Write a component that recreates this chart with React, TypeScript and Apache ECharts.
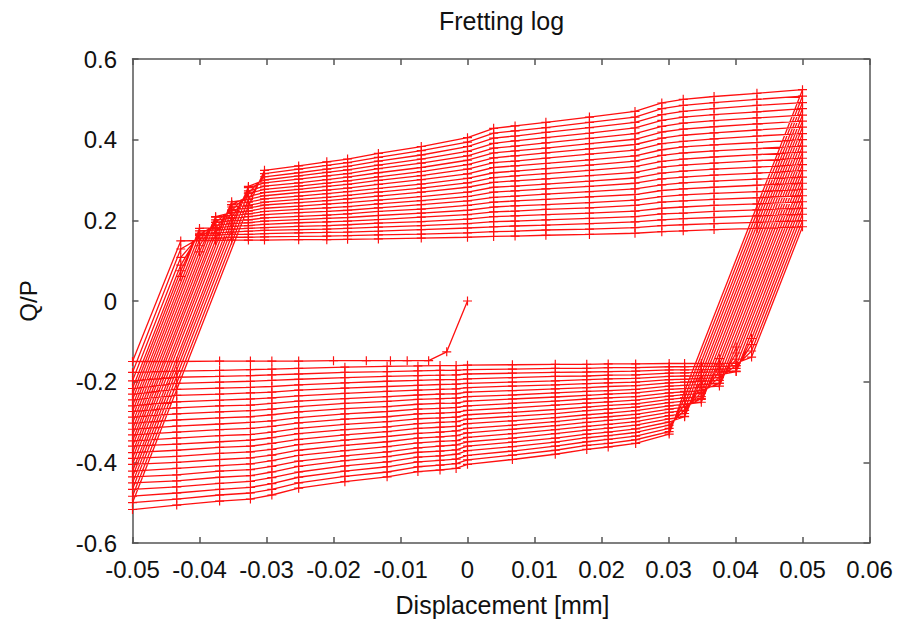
import React, { useEffect, useRef } from "react";
import * as echarts from "echarts";

const n = null;
const FONT = "'Liberation Sans', Arial, sans-serif";

const TITLE = "Fretting log";
const X_NAME = "Displacement [mm]";
const Y_NAME = "Q/P";

const X_TICKS = [-0.05, -0.04, -0.03, -0.02, -0.01, 0, 0.01, 0.02, 0.03, 0.04, 0.05, 0.06];
const Y_TICKS = [-0.6, -0.4, -0.2, 0, 0.2, 0.4, 0.6];

// initial loading path (displacement, Q/P)
const X_START = [0, -0.0031, -0.0058, -0.009, -0.0115, -0.0151, -0.02, -0.0252, -0.0292, -0.0324, -0.037, -0.0434, -0.05];
const Q_START = [0, -0.126, -0.148, -0.148, -0.148, -0.148, -0.148, -0.149, -0.149, -0.149, -0.149, -0.15, -0.15];

// forward stroke: sample displacements, and Q/P of cycles 1..23 at each of them
const X_TOP = [-0.0428, -0.04, -0.0376, -0.0352, -0.0327, -0.0303, -0.0252, -0.021, -0.0179, -0.0133, -0.0069, 0, 0.0039, 0.0071, 0.0117, 0.0182, 0.025, 0.029, 0.0322, 0.0368, 0.0432, 0.05];
const TOP_Q: (number | null)[][] = [
  [0.149, 0.129, 0.108, 0.089, 0.075, 0.061, n, n, n, n, n, n, n, n, n, n, n, n, n, n, n, n, n],
  [0.15, 0.156, 0.162, 0.168, 0.174, 0.18, 0.165, 0.151, 0.137, 0.122, n, n, n, n, n, n, n, n, n, n, n, n, n],
  [0.15, 0.156, 0.163, 0.169, 0.176, 0.182, 0.188, 0.195, 0.201, 0.208, 0.209, 0.195, 0.18, 0.167, 0.151, n, n, n, n, n, n, n, n],
  [0.151, 0.158, 0.165, 0.171, 0.178, 0.185, 0.192, 0.199, 0.205, 0.212, 0.219, 0.226, 0.233, 0.239, 0.246, 0.239, 0.224, 0.207, 0.193, n, n, n, n],
  [0.151, 0.158, 0.165, 0.173, 0.18, 0.187, 0.194, 0.201, 0.209, 0.216, 0.223, 0.23, 0.237, 0.245, 0.252, 0.259, 0.266, 0.273, 0.281, 0.284, 0.268, 0.251, 0.235],
  [0.151, 0.159, 0.167, 0.175, 0.182, 0.19, 0.198, 0.206, 0.214, 0.222, 0.23, 0.238, 0.245, 0.253, 0.261, 0.269, 0.277, 0.285, 0.293, 0.3, 0.308, 0.316, 0.324],
  [0.152, 0.16, 0.169, 0.177, 0.185, 0.194, 0.202, 0.21, 0.219, 0.227, 0.235, 0.244, 0.252, 0.26, 0.269, 0.277, 0.285, 0.293, 0.302, 0.31, 0.318, 0.327, 0.335],
  [0.152, 0.161, 0.17, 0.178, 0.187, 0.196, 0.205, 0.213, 0.222, 0.231, 0.24, 0.249, 0.257, 0.266, 0.275, 0.284, 0.292, 0.301, 0.31, 0.319, 0.327, 0.336, 0.345],
  [0.153, 0.162, 0.171, 0.18, 0.189, 0.198, 0.207, 0.216, 0.225, 0.234, 0.244, 0.253, 0.262, 0.271, 0.28, 0.289, 0.298, 0.307, 0.316, 0.325, 0.334, 0.343, 0.352],
  [0.154, 0.164, 0.173, 0.183, 0.193, 0.202, 0.212, 0.222, 0.231, 0.241, 0.25, 0.26, 0.27, 0.279, 0.289, 0.299, 0.308, 0.318, 0.328, 0.337, 0.347, 0.356, 0.366],
  [0.156, 0.166, 0.177, 0.187, 0.197, 0.208, 0.218, 0.228, 0.239, 0.249, 0.259, 0.27, 0.28, 0.29, 0.301, 0.311, 0.321, 0.331, 0.342, 0.352, 0.362, 0.373, 0.383],
  [0.158, 0.169, 0.181, 0.192, 0.203, 0.214, 0.225, 0.237, 0.248, 0.259, 0.27, 0.282, 0.293, 0.304, 0.315, 0.327, 0.338, 0.349, 0.36, 0.371, 0.383, 0.394, 0.405],
  [0.16, 0.172, 0.184, 0.197, 0.209, 0.221, 0.233, 0.245, 0.257, 0.27, 0.282, 0.294, 0.306, 0.318, 0.331, 0.343, 0.355, 0.367, 0.379, 0.391, 0.404, 0.416, 0.428],
  [0.161, 0.173, 0.186, 0.198, 0.211, 0.223, 0.236, 0.248, 0.26, 0.273, 0.285, 0.298, 0.31, 0.322, 0.335, 0.347, 0.36, 0.372, 0.384, 0.397, 0.409, 0.422, 0.434],
  [0.163, 0.176, 0.188, 0.201, 0.214, 0.227, 0.239, 0.252, 0.265, 0.278, 0.29, 0.303, 0.316, 0.328, 0.341, 0.354, 0.367, 0.379, 0.392, 0.405, 0.418, 0.43, 0.443],
  [0.165, 0.178, 0.192, 0.205, 0.218, 0.231, 0.244, 0.258, 0.271, 0.284, 0.297, 0.311, 0.324, 0.337, 0.35, 0.364, 0.377, 0.39, 0.403, 0.416, 0.43, 0.443, 0.456],
  [0.168, 0.182, 0.196, 0.209, 0.223, 0.237, 0.25, 0.264, 0.278, 0.292, 0.305, 0.319, 0.333, 0.347, 0.36, 0.374, 0.388, 0.401, 0.415, 0.429, 0.443, 0.456, 0.47],
  [0.172, 0.187, 0.201, 0.216, 0.23, 0.245, 0.259, 0.274, 0.288, 0.303, 0.317, 0.332, 0.346, 0.361, 0.375, 0.39, 0.404, 0.419, 0.433, 0.448, 0.462, 0.477, 0.491],
  [0.174, 0.189, 0.204, 0.218, 0.233, 0.248, 0.263, 0.278, 0.293, 0.307, 0.322, 0.337, 0.352, 0.367, 0.382, 0.396, 0.411, 0.426, 0.441, 0.456, 0.47, 0.485, 0.5],
  [0.177, 0.192, 0.207, 0.222, 0.237, 0.252, 0.267, 0.282, 0.297, 0.312, 0.327, 0.342, 0.357, 0.372, 0.387, 0.402, 0.417, 0.432, 0.447, 0.462, 0.477, 0.492, 0.507],
  [0.18, 0.195, 0.211, 0.226, 0.241, 0.256, 0.271, 0.287, 0.302, 0.317, 0.332, 0.348, 0.363, 0.378, 0.393, 0.409, 0.424, 0.439, 0.454, 0.469, 0.485, 0.5, 0.515],
  [0.184, 0.199, 0.215, 0.23, 0.246, 0.261, 0.277, 0.292, 0.307, 0.323, 0.338, 0.354, 0.369, 0.384, 0.4, 0.415, 0.431, 0.446, 0.461, 0.477, 0.492, 0.508, 0.524],
];

// return stroke: sample displacements, and Q/P of cycles 1..23 at each of them
const X_BOTTOM = [0.0424, 0.0401, 0.0376, 0.0349, 0.0324, 0.0301, 0.0251, 0.021, 0.0178, 0.0131, 0.0067, 0, -0.0017, -0.0041, -0.0074, -0.012, -0.0183, -0.0252, -0.0292, -0.0324, -0.037, -0.0434, -0.05];
const BOTTOM_Q: (number | null)[][] = [
  [-0.139, -0.124, -0.108, -0.093, n, n, n, n, n, n, n, n, n, n, n, n, n, n, n, n, n, n, n],
  [-0.154, -0.161, -0.167, -0.174, -0.175, -0.16, -0.144, -0.129, -0.114, n, n, n, n, n, n, n, n, n, n, n, n, n, n],
  [-0.155, -0.162, -0.169, -0.176, -0.183, -0.19, -0.197, -0.204, -0.211, -0.204, -0.189, -0.173, -0.158, -0.143, n, n, n, n, n, n, n, n, n],
  [-0.155, -0.162, -0.17, -0.177, -0.185, -0.192, -0.199, -0.207, -0.214, -0.222, -0.229, -0.237, -0.244, -0.251, -0.242, -0.227, -0.211, -0.196, n, n, n, n, n],
  [-0.155, -0.163, -0.171, -0.178, -0.186, -0.194, -0.201, -0.209, -0.217, -0.225, -0.232, -0.24, -0.248, -0.256, -0.263, -0.271, -0.279, -0.286, -0.287, -0.271, -0.256, -0.24, -0.224],
  [-0.155, -0.163, -0.171, -0.179, -0.187, -0.195, -0.203, -0.211, -0.219, -0.228, -0.236, -0.244, -0.252, -0.26, -0.268, -0.276, -0.284, -0.292, -0.3, -0.308, -0.316, -0.324, -0.33],
  [-0.156, -0.165, -0.174, -0.183, -0.192, -0.201, -0.21, -0.219, -0.228, -0.237, -0.246, -0.255, -0.263, -0.272, -0.281, -0.29, -0.299, -0.308, -0.317, -0.326, -0.335, -0.344, -0.353],
  [-0.156, -0.165, -0.175, -0.184, -0.193, -0.203, -0.212, -0.222, -0.231, -0.24, -0.25, -0.259, -0.268, -0.278, -0.287, -0.296, -0.306, -0.315, -0.325, -0.334, -0.343, -0.353, -0.362],
  [-0.157, -0.167, -0.176, -0.186, -0.195, -0.205, -0.215, -0.224, -0.234, -0.243, -0.253, -0.263, -0.272, -0.282, -0.291, -0.301, -0.311, -0.32, -0.33, -0.339, -0.349, -0.358, -0.368],
  [-0.157, -0.167, -0.177, -0.187, -0.198, -0.208, -0.218, -0.228, -0.238, -0.248, -0.258, -0.269, -0.279, -0.289, -0.299, -0.309, -0.319, -0.329, -0.34, -0.35, -0.36, -0.37, -0.38],
  [-0.158, -0.169, -0.179, -0.19, -0.201, -0.211, -0.222, -0.233, -0.243, -0.254, -0.265, -0.276, -0.286, -0.297, -0.308, -0.318, -0.329, -0.34, -0.35, -0.361, -0.372, -0.382, -0.393],
  [-0.159, -0.17, -0.181, -0.193, -0.204, -0.215, -0.226, -0.237, -0.248, -0.26, -0.271, -0.282, -0.293, -0.304, -0.316, -0.327, -0.338, -0.349, -0.36, -0.371, -0.383, -0.394, -0.405],
  [-0.16, -0.172, -0.183, -0.195, -0.206, -0.218, -0.23, -0.241, -0.253, -0.264, -0.276, -0.288, -0.299, -0.311, -0.322, -0.334, -0.346, -0.357, -0.369, -0.38, -0.392, -0.403, -0.415],
  [-0.16, -0.172, -0.184, -0.195, -0.207, -0.219, -0.231, -0.242, -0.254, -0.266, -0.278, -0.29, -0.301, -0.313, -0.325, -0.337, -0.348, -0.36, -0.372, -0.384, -0.395, -0.407, -0.419],
  [-0.161, -0.173, -0.185, -0.197, -0.209, -0.221, -0.233, -0.244, -0.256, -0.268, -0.28, -0.292, -0.304, -0.316, -0.328, -0.34, -0.352, -0.364, -0.375, -0.387, -0.399, -0.411, -0.423],
  [-0.162, -0.175, -0.187, -0.199, -0.212, -0.224, -0.237, -0.249, -0.262, -0.274, -0.287, -0.299, -0.312, -0.324, -0.336, -0.349, -0.361, -0.374, -0.386, -0.399, -0.411, -0.424, -0.436],
  [-0.164, -0.177, -0.19, -0.203, -0.216, -0.229, -0.242, -0.254, -0.267, -0.28, -0.293, -0.306, -0.319, -0.332, -0.345, -0.358, -0.371, -0.384, -0.396, -0.409, -0.422, -0.435, -0.448],
  [-0.167, -0.181, -0.194, -0.208, -0.221, -0.235, -0.248, -0.262, -0.275, -0.289, -0.302, -0.316, -0.329, -0.343, -0.356, -0.37, -0.383, -0.397, -0.41, -0.424, -0.437, -0.451, -0.464],
  [-0.169, -0.183, -0.197, -0.212, -0.226, -0.24, -0.254, -0.268, -0.282, -0.297, -0.311, -0.325, -0.339, -0.353, -0.368, -0.382, -0.396, -0.41, -0.424, -0.438, -0.453, -0.467, -0.481],
  [-0.17, -0.185, -0.199, -0.214, -0.228, -0.243, -0.258, -0.272, -0.287, -0.301, -0.316, -0.331, -0.345, -0.36, -0.374, -0.389, -0.404, -0.418, -0.433, -0.447, -0.462, -0.476, -0.491],
  [-0.172, -0.187, -0.201, -0.216, -0.231, -0.246, -0.26, -0.275, -0.29, -0.305, -0.319, -0.334, -0.349, -0.363, -0.378, -0.393, -0.408, -0.422, -0.437, -0.452, -0.467, -0.481, -0.496],
  [-0.174, -0.189, -0.204, -0.219, -0.234, -0.25, -0.265, -0.28, -0.295, -0.31, -0.325, -0.34, -0.355, -0.37, -0.385, -0.4, -0.415, -0.431, -0.446, -0.461, -0.476, -0.491, -0.506],
  [-0.177, -0.198, -0.217, -0.231, -0.245, -0.26, -0.274, -0.288, -0.303, -0.318, -0.332, -0.347, -0.36, -0.376, -0.39, -0.405, -0.422, -0.436, -0.451, -0.467, -0.484, -0.5, -0.517],
];

const PLUS = "path://M0,4.35h10v1.3h-10z M4.35,0h1.3v10h-1.3z";

export default function App() {
  const ref = useRef<HTMLDivElement>(null);

  useEffect(() => {
    document.body.style.margin = "0";
    const el = ref.current;
    if (!el) return;
    const chart = echarts.init(el, null, { renderer: "svg" });

    const points: number[][] = [];
    X_START.forEach((x, i) => points.push([x, Q_START[i]]));
    const cycles = TOP_Q[0].length;
    for (let k = 0; k < cycles; k++) {
      X_TOP.forEach((x, c) => {
        const q = TOP_Q[c][k];
        if (q !== null) points.push([x, q]);
      });
      X_BOTTOM.forEach((x, c) => {
        const q = BOTTOM_Q[c][k];
        if (q !== null) points.push([x, q]);
      });
    }

    const axisColor = "#555";
    const common = {
      type: "value" as const,
      axisLine: { show: true, onZero: false, lineStyle: { color: axisColor, width: 1.5 } },
      axisTick: { show: true, inside: true, length: 6, lineStyle: { color: axisColor, width: 1.5 } },
      splitLine: { show: false },
    };
    const labelStyle = { fontFamily: FONT, fontSize: 24, color: "#111", lineHeight: 24 };

    chart.setOption({
      animation: false,
      backgroundColor: "#fff",
      grid: { left: 132.5, top: 59, width: 737, height: 484, containLabel: false },
      xAxis: [
        {
          ...common,
          position: "bottom",
          min: X_TICKS[0],
          max: X_TICKS[X_TICKS.length - 1],
          interval: 0.01,
          axisLabel: { ...labelStyle, margin: 14, formatter: (v: number) => String(Math.round(v * 100) / 100) },
        },
        {
          ...common,
          position: "top",
          min: X_TICKS[0],
          max: X_TICKS[X_TICKS.length - 1],
          interval: 0.01,
          axisLabel: { show: false },
        },
      ],
      yAxis: [
        {
          ...common,
          position: "left",
          min: Y_TICKS[0],
          max: Y_TICKS[Y_TICKS.length - 1],
          interval: 0.2,
          axisLabel: { ...labelStyle, margin: 15.5, formatter: (v: number) => String(Math.round(v * 10) / 10) },
        },
        {
          ...common,
          position: "right",
          min: Y_TICKS[0],
          max: Y_TICKS[Y_TICKS.length - 1],
          interval: 0.2,
          axisLabel: { show: false },
        },
      ],
      series: [
        {
          type: "line",
          xAxisIndex: 0,
          yAxisIndex: 0,
          data: points,
          showSymbol: true,
          symbol: PLUS,
          symbolSize: 9,
          silent: true,
          lineStyle: { color: "#ff1010", width: 1.3 },
          itemStyle: { color: "#ff1010" },
          emphasis: { disabled: true },
        },
      ],
      graphic: [
        {
          type: "text",
          x: 501.5,
          y: 20.8,
          style: { text: TITLE, fontFamily: FONT, fontSize: 25, fill: "#111", textAlign: "center", textVerticalAlign: "middle" },
        },
        {
          type: "text",
          x: 502.5,
          y: 605,
          style: { text: X_NAME, fontFamily: FONT, fontSize: 25, fill: "#111", textAlign: "center", textVerticalAlign: "middle" },
        },
        {
          type: "text",
          x: 28.5,
          y: 301,
          rotation: Math.PI / 2,
          style: { text: Y_NAME, fontFamily: FONT, fontSize: 24, fill: "#111", textAlign: "center", textVerticalAlign: "middle" },
        },
      ],
    });

    return () => chart.dispose();
  }, []);

  return (
    <div
      ref={ref}
      style={{ position: "absolute", left: 0, top: 0, width: 906, height: 620, background: "#fff" }}
    />
  );
}
